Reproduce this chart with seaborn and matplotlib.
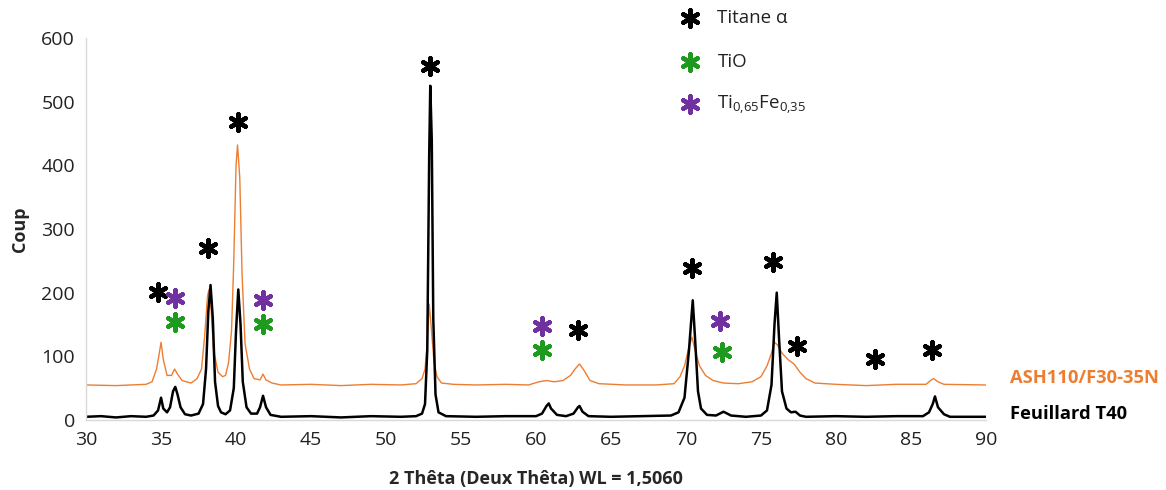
import matplotlib
matplotlib.use("Agg")
import matplotlib.pyplot as plt
import seaborn as sns
import pandas as pd

# Feuillard T40 (black) - points
t40_x = [30.0, 31.0, 32.0, 33.0, 34.0, 34.5, 34.8, 35.0, 35.15, 35.4, 35.6, 35.8, 35.95, 36.1,
         36.3, 36.6, 37.0, 37.5, 37.8, 38.0, 38.15, 38.3, 38.45, 38.6, 38.8, 39.0, 39.3, 39.6,
         39.85, 40.0, 40.15, 40.3, 40.45, 40.7, 41.0, 41.4, 41.6, 41.8, 42.0, 42.3, 43.0, 45.0,
         47.0, 49.0, 51.0, 52.0, 52.4, 52.6, 52.75, 52.88, 52.95, 53.05, 53.15, 53.3, 53.5, 54.0,
         56.0, 58.0, 60.0, 60.4, 60.7, 60.85, 61.0, 61.4, 62.0, 62.5, 62.8, 62.9, 63.1, 63.5,
         65.0, 67.0, 69.0, 69.5, 69.9, 70.2, 70.45, 70.6, 70.8, 71.0, 71.4, 72.0, 72.5, 73.0,
         74.0, 75.0, 75.4, 75.7, 75.9, 76.05, 76.2, 76.4, 76.7, 77.0, 77.3, 77.6, 78.0, 80.0,
         82.0, 84.0, 85.8, 86.2, 86.45, 86.6, 86.8, 87.2, 87.6, 90.0]
t40_y = [5, 6, 4, 6, 5, 7, 15, 35, 18, 12, 20, 45, 52, 40,
         20, 9, 7, 10, 25, 80, 170, 212, 160, 60, 22, 12, 9, 15,
         50, 140, 205, 150, 60, 20, 10, 10, 20, 38, 20, 8, 5, 6,
         4, 6, 5, 6, 10, 25, 110, 420, 525, 440, 160, 40, 12, 6,
         5, 6, 6, 10, 22, 26, 18, 8, 6, 10, 20, 22, 13, 6,
         5, 6, 7, 12, 35, 110, 188, 130, 45, 18, 8, 7, 13, 7,
         5, 7, 15, 55, 150, 200, 130, 45, 18, 12, 13, 7, 5, 6,
         5, 6, 6, 12, 25, 37, 20, 9, 5, 5]

# ASH110/F30-35N (orange)
ash_x = [30.0, 32.0, 34.0, 34.4, 34.7, 34.85, 35.0, 35.15, 35.4, 35.7, 35.9, 36.1, 36.4, 37.0,
         37.4, 37.7, 37.9, 38.1, 38.2, 38.35, 38.5, 38.8, 39.1, 39.3, 39.5, 39.7, 39.85, 40.0,
         40.1, 40.25, 40.4, 40.6, 40.9, 41.2, 41.6, 41.8, 42.0, 42.4, 43.0, 45.0, 47.0, 49.0,
         51.0, 52.0, 52.4, 52.6, 52.75, 52.88, 53.0, 53.2, 53.4, 53.7, 54.5, 56.0, 58.0, 59.5,
         60.2, 60.7, 61.2, 61.8, 62.3, 62.6, 62.9, 63.2, 63.6, 64.2, 66.0, 68.0, 69.2, 69.6,
         69.9, 70.2, 70.4, 70.6, 70.9, 71.3, 71.8, 72.5, 73.5, 74.4, 75.0, 75.4, 75.7, 75.9,
         76.1, 76.4, 76.8, 77.2, 77.6, 78.0, 78.6, 80.0, 82.0, 84.0, 86.0, 86.3, 86.5, 86.8,
         87.2, 90.0]
ash_y = [55, 54, 56, 60, 80, 100, 122, 95, 70, 70, 80, 72, 62, 58,
         65, 80, 130, 195, 205, 170, 110, 75, 68, 70, 90, 140, 250, 400,
         432, 380, 230, 120, 80, 65, 63, 72, 63, 58, 55, 56, 54, 56,
         55, 57, 65, 80, 120, 182, 150, 90, 68, 58, 56, 55, 56, 55,
         60, 62, 60, 62, 70, 80, 88, 78, 62, 57, 55, 55, 57, 68,
         85, 115, 130, 110, 85, 70, 62, 58, 57, 60, 68, 85, 105, 122,
         118, 105, 95, 88, 75, 65, 58, 56, 54, 56, 56, 62, 65, 60,
         56, 55]

# phase markers (asterisks)
titane_x = [34.8, 38.13, 40.13, 52.93, 62.8, 70.4, 75.8, 77.4, 82.6, 86.4]
titane_y = [201, 270, 468, 556, 141, 239, 248, 116, 96, 110]
tio_x = [35.93, 41.8, 60.4, 72.4]
tio_y = [154, 151, 110, 107]
tife_x = [35.93, 41.8, 60.4, 72.27]
tife_y = [192, 188, 148, 155]

BLACK = "#000000"
ORANGE = "#ED7D31"
GREEN = "#1E9A1E"
PURPLE = "#7030A0"

sns.set_style("white")
plt.rcParams["font.family"] = ["Open Sans", "DejaVu Sans"]
plt.rcParams["mathtext.default"] = "regular"

fig = plt.figure(figsize=(11.66, 4.9), dpi=100)
ax = fig.add_axes([0.0738, 0.1429, 0.7718, 0.7795])

df_t40 = pd.DataFrame({"x": t40_x, "y": t40_y})
df_ash = pd.DataFrame({"x": ash_x, "y": ash_y})
sns.lineplot(data=df_ash, x="x", y="y", ax=ax, color=ORANGE, linewidth=1.0, estimator=None)
sns.lineplot(data=df_t40, x="x", y="y", ax=ax, color=BLACK, linewidth=1.8, estimator=None)

star = (6, 2, 0)
for xs, ys, c in [(titane_x, titane_y, BLACK), (tio_x, tio_y, GREEN), (tife_x, tife_y, PURPLE)]:
    ax.scatter(xs, ys, marker=star, s=140, color=c, linewidths=3.2, clip_on=False, zorder=5)

# legend of phases (above plot)
leg_y = [631, 562, 496]
leg_c = [BLACK, GREEN, PURPLE]
leg_t = [u"Titane \u03b1", "TiO", r"Ti$_{0{,}65}$Fe$_{0{,}35}$"]
for yy, c, t in zip(leg_y, leg_c, leg_t):
    ax.scatter([70.27], [yy], marker=star, s=140, color=c, linewidths=3.2, clip_on=False, zorder=5)
    ax.text(72.1, yy, t, fontsize=13.5, color="#222222", va="center", ha="left", clip_on=False)

ax.set_xlim(30, 90)
ax.set_ylim(0, 600)
ax.set_xticks(range(30, 91, 5))
ax.set_yticks(range(0, 601, 100))
ax.tick_params(axis="both", labelsize=14, colors="#222222", length=0, pad=8)
ax.set_xlabel("2 Thêta (Deux Thêta) WL = 1,5060", fontsize=13, fontweight="bold", labelpad=15)
ax.set_ylabel("Coup", fontsize=13, fontweight="bold", labelpad=9)

for s in ["top", "right"]:
    ax.spines[s].set_visible(False)
for s in ["left", "bottom"]:
    ax.spines[s].set_color("#D9D9D9")
    ax.spines[s].set_linewidth(1)

fig.text(1010 / 1166, 1 - 378 / 490, "ASH110/F30-35N", color=ORANGE, fontsize=13.2,
         fontweight="bold", va="center", ha="left")
fig.text(1010 / 1166, 1 - 414 / 490, "Feuillard T40", color=BLACK, fontsize=13.2,
         fontweight="bold", va="center", ha="left")

fig.savefig("out.png", dpi=100)
